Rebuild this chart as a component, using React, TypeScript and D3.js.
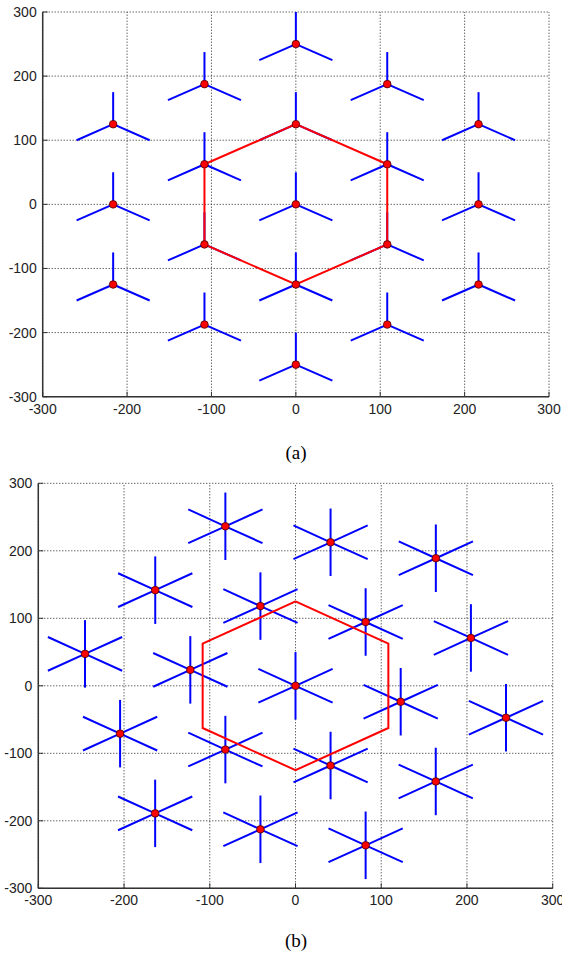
import React from "react";
import * as d3 from "d3";

const ticks = [-300, -200, -100, 0, 100, 200, 300];
const armLength = 50;
const armAnglesA = [90, 210, 330];
const armAnglesB = [90, 210, 330, 270, 30, 150];

const pointsA: [number, number][] = [
  [0, 250], [0, 125], [0, 0], [0, -125], [0, -250],
  [108.3, 187.5], [108.3, 62.5], [108.3, -62.5], [108.3, -187.5],
  [-108.3, 187.5], [-108.3, 62.5], [-108.3, -62.5], [-108.3, -187.5],
  [216.5, 125], [216.5, 0], [216.5, -125],
  [-216.5, 125], [-216.5, 0], [-216.5, -125],
];

const pointsB: [number, number][] = [
  [-81.8, 236.3], [40.9, 212.6], [163.7, 189.0],
  [-163.6, 141.7], [-40.9, 118.1], [81.8, 94.5], [204.6, 70.9],
  [-245.5, 47.3], [-122.7, 23.6], [0, 0], [122.7, -23.6], [245.5, -47.3],
  [-204.6, -70.9], [-81.8, -94.5], [40.9, -118.1], [163.6, -141.7],
  [-163.7, -189.0], [-40.9, -212.6], [81.8, -236.3],
];

const hexagon: [number, number][] = [
  [0, 125], [108.3, 62.5], [108.3, -62.5], [0, -125], [-108.3, -62.5], [-108.3, 62.5],
];

type PanelProps = {
  x0: number; x1: number; y0: number; y1: number;
  points: [number, number][]; angles: number[]; label: string; labelY: number;
};

function Panel({ x0, x1, y0, y1, points, angles, label, labelY }: PanelProps) {
  const x = d3.scaleLinear().domain([-300, 300]).range([x0, x1]);
  const y = d3.scaleLinear().domain([-300, 300]).range([y1, y0]);
  const line = d3.line<[number, number]>().x(d => x(d[0])).y(d => y(d[1]));
  const font = "'Liberation Sans', Arial, sans-serif";
  return (
    <g>
      {/* grid */}
      {ticks.map(t => (
        <g key={"g" + t}>
          <line x1={x(t)} x2={x(t)} y1={y(-300)} y2={y(300)} stroke="#222" strokeWidth={1} strokeDasharray="1,2" />
          <line x1={x(-300)} x2={x(300)} y1={y(t)} y2={y(t)} stroke="#222" strokeWidth={1} strokeDasharray="1,2" />
        </g>
      ))}
      {/* axes */}
      <line x1={x(-300)} x2={x(300)} y1={y(-300)} y2={y(-300)} stroke="#333" strokeWidth={1.5} />
      <line x1={x(-300)} x2={x(-300)} y1={y(-300)} y2={y(300)} stroke="#333" strokeWidth={1.5} />
      {ticks.map(t => (
        <g key={"t" + t}>
          <line x1={x(t)} x2={x(t)} y1={y(-300)} y2={y(-300) - 5} stroke="#333" strokeWidth={1} />
          <line x1={x(-300)} x2={x(-300) + 5} y1={y(t)} y2={y(t)} stroke="#333" strokeWidth={1} />
          <text x={x(t)} y={y(-300) + 12} textAnchor="middle" dominantBaseline="central" fontFamily={font} fontSize={14} fill="#222">{t}</text>
          <text x={x(-300) - 6} y={y(t)} textAnchor="end" dominantBaseline="central" fontFamily={font} fontSize={14} fill="#222">{t}</text>
        </g>
      ))}
      {/* stars */}
      {points.map((p, i) => (
        <g key={"s" + i}>
          {angles.map(a => (
            <path key={a} d={line([p, [p[0] + armLength * Math.cos(a * Math.PI / 180), p[1] + armLength * Math.sin(a * Math.PI / 180)]]) || ""}
              stroke="#0000ff" strokeWidth={2} fill="none" />
          ))}
        </g>
      ))}
      {/* hexagon */}
      <path d={(line([...hexagon, hexagon[0]]) || "")} stroke="#ff0000" strokeWidth={2} fill="none" />
      {/* dots */}
      {points.map((p, i) => (
        <circle key={"c" + i} cx={x(p[0])} cy={y(p[1])} r={3.8} fill="#ff0000" stroke="#400" strokeWidth={0.8} />
      ))}
      <text x={296} y={labelY} textAnchor="middle" dominantBaseline="central" fontFamily="'Liberation Serif', 'Times New Roman', serif" fontSize={19} fill="#000">{label}</text>
    </g>
  );
}

export default function App() {
  return (
    <svg width={562} height={962} style={{ position: "absolute", left: 0, top: 0, background: "#fff" }}>
      <rect width={562} height={962} fill="#fff" />
      <Panel x0={42.7} x1={549} y0={12} y1={396.7} points={pointsA} angles={armAnglesA} label="(a)" labelY={452} />
      <Panel x0={38.3} x1={552.7} y0={483.3} y1={888.3} points={pointsB} angles={armAnglesB} label="(b)" labelY={940} />
    </svg>
  );
}
